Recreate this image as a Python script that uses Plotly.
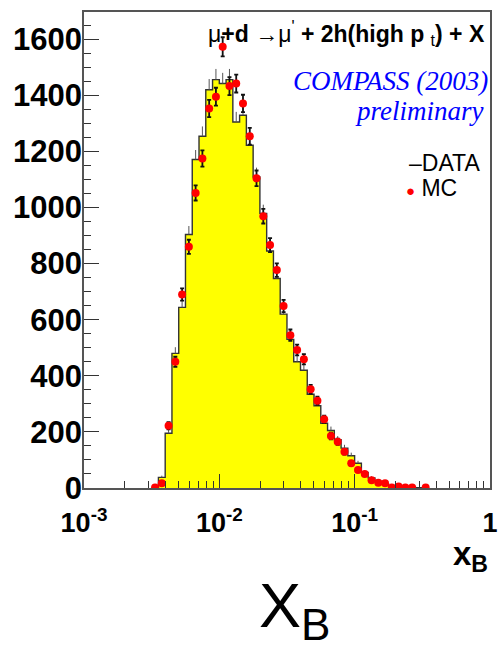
import plotly.graph_objects as go

# ---- data ----
# lower edge of each bin, as log10(x_B); bins are 0.05 wide in log10
BIN_LOG_LO = [-2.50, -2.45, -2.40, -2.35, -2.30, -2.25, -2.20, -2.15, -2.10, -2.05,
              -2.00, -1.95, -1.90, -1.85, -1.80, -1.75, -1.70, -1.65, -1.60, -1.55,
              -1.50, -1.45, -1.40, -1.35, -1.30, -1.25, -1.20, -1.15, -1.10, -1.05,
              -1.00, -0.95, -0.90, -0.85, -0.80, -0.75, -0.70, -0.65, -0.60, -0.55,
              -0.50]
BIN_WIDTH_LOG = 0.05

DATA_COUNTS = [2, 38, 195, 480, 644, 904, 1171, 1254, 1420, 1456,
               1442, 1456, 1305, 1329, 1222, 1109, 979, 845, 747, 620,
               530, 450, 420, 334, 293, 231, 205, 172, 142, 115,
               88, 55, 36, 24, 15, 8, 5, 3, 2, 1,
               1]
DATA_ERR_UP = [1, 6, 14, 22, 25, 30, 34, 35, 38, 38,
               38, 38, 36, 36, 35, 33, 31, 29, 27, 25,
               23, 21, 20, 18, 17, 15, 14, 13, 12, 11,
               9, 7, 6, 5, 4, 3, 2, 2, 1, 1,
               1]

MC_COUNTS = [2, 17, 222, 450, 690, 860, 1052, 1175, 1353, 1395,
             1573, 1433, 1442, 1371, 1254, 1104, 969, 866, 777, 649,
             545, 492, 459, 352, 311, 245, 185, 165, 129, 88,
             64, 50, 28, 19, 17, 2, 5, 2, 2, None,
             2]
MC_ERR = [1, 4, 13, 18, 22, 25, 27, 29, 31, 32,
          34, 32, 32, 31, 30, 28, 26, 25, 24, 22,
          20, 19, 18, 16, 15, 13, 12, 11, 10, 8,
          7, 6, 5, 4, 4, 1, 2, 1, 1, 0,
          1]

X_TICK_VALS = [1e-3, 1e-2, 1e-1, 1]
X_TICK_TEXT = ["10<sup>-3</sup>", "10<sup>-2</sup>", "10<sup>-1</sup>", "1"]
Y_TICK_VALS = [0, 200, 400, 600, 800, 1000, 1200, 1400, 1600]

# ---- derived positions ----
edges = [10 ** l for l in BIN_LOG_LO] + [10 ** (BIN_LOG_LO[-1] + BIN_WIDTH_LOG)]
centers = [10 ** (l + BIN_WIDTH_LOG / 2) for l in BIN_LOG_LO]
step_y = DATA_COUNTS + [DATA_COUNTS[-1]]

SANS = "Liberation Sans, Arial, sans-serif"
SERIF = "Liberation Serif, Times New Roman, serif"

fig = go.Figure()

# DATA histogram (yellow filled step)
fig.add_trace(go.Scatter(
    x=edges, y=step_y, mode="lines", line_shape="hv",
    line=dict(color="#333333", width=1.4),
    fill="tozeroy", fillcolor="#ffff00",
    hoverinfo="skip", showlegend=False))

# DATA thin error bars (upward part visible above the histogram)
fig.add_trace(go.Scatter(
    x=centers, y=DATA_COUNTS, mode="markers",
    marker=dict(size=1, color="rgba(0,0,0,0)"),
    error_y=dict(type="data", symmetric=False, array=DATA_ERR_UP,
                 arrayminus=[0] * len(DATA_ERR_UP),
                 color="#555555", thickness=1, width=0),
    hoverinfo="skip", showlegend=False))

# MC points with error bars
fig.add_trace(go.Scatter(
    x=centers, y=MC_COUNTS, mode="markers",
    marker=dict(size=8, color="#ff0000", line=dict(width=0)),
    error_y=dict(type="data", array=MC_ERR, color="#111111",
                 thickness=1.8, width=2),
    hoverinfo="skip", showlegend=False))

fig.update_xaxes(
    type="log", range=[-3, 0.0005],
    tickvals=X_TICK_VALS, ticktext=X_TICK_TEXT,
    ticks="inside", ticklen=14, tickwidth=1, tickcolor="#333333",
    tickfont=dict(family=SANS, size=27, color="black", weight="bold"),
    ticklabelstandoff=10, ticklabeloverflow="allow",
    minor=dict(ticks="inside", ticklen=7, tickwidth=1, tickcolor="#333333",
               tickvals=[m * d for d in (1e-3, 1e-2, 1e-1) for m in range(2, 10)]),
    showline=True, linecolor="#555555", linewidth=1.5, mirror=True,
    showgrid=False, zeroline=False)

fig.update_yaxes(
    range=[0, 1697],
    tickvals=Y_TICK_VALS,
    ticks="inside", ticklen=15, tickwidth=1, tickcolor="#333333",
    tickfont=dict(family=SANS, size=31, color="black", weight="bold"),
    ticklabelstandoff=-6,
    minor=dict(ticks="inside", ticklen=7, tickwidth=1, tickcolor="#333333", dtick=50),
    showline=True, linecolor="#555555", linewidth=1.5, mirror=True,
    showgrid=False, zeroline=False)

annotations = [
    dict(text="μ<b>+d</b> →μ<sup>'</sup> <b>+ 2h(high p</b> <sub>t</sub><b>) + X</b>",
         x=0.993, y=0.955, xref="paper", yref="paper", xanchor="right", yanchor="middle",
         showarrow=False, font=dict(family=SANS, size=23, color="black")),
    dict(text="<i>COMPASS (2003)</i>",
         x=1.0, y=0.855, xref="paper", yref="paper", xanchor="right", yanchor="middle",
         showarrow=False, font=dict(family=SERIF, size=27, color="#0000ff")),
    dict(text="<i>preliminary</i>",
         x=0.99, y=0.792, xref="paper", yref="paper", xanchor="right", yanchor="middle",
         showarrow=False, font=dict(family=SERIF, size=27, color="#0000ff")),
    dict(text="–DATA",
         x=0.98, y=0.683, xref="paper", yref="paper", xanchor="right", yanchor="middle",
         showarrow=False, font=dict(family=SANS, size=23, color="black")),
    dict(text="<span style='color:#ff0000;font-size:15px'>●</span> MC",
         x=0.924, y=0.63, xref="paper", yref="paper", xanchor="right", yanchor="middle",
         showarrow=False, font=dict(family=SANS, size=23, color="black")),
    dict(text="<b>x<sub>B</sub></b>",
         x=1.0, y=-0.095, xref="paper", yref="paper", xanchor="right", yanchor="top",
         showarrow=False, font=dict(family=SANS, size=33, color="black")),
    dict(text="X<sub>B</sub>",
         x=0.519, y=-0.255, xref="paper", yref="paper", xanchor="center", yanchor="middle",
         showarrow=False, font=dict(family=SANS, size=63, color="black")),
]

fig.update_layout(
    width=502, height=648,
    margin=dict(l=83.5, r=5, t=12, b=160),
    paper_bgcolor="white", plot_bgcolor="white",
    showlegend=False,
    annotations=annotations,
)

fig.write_html("out.html")
